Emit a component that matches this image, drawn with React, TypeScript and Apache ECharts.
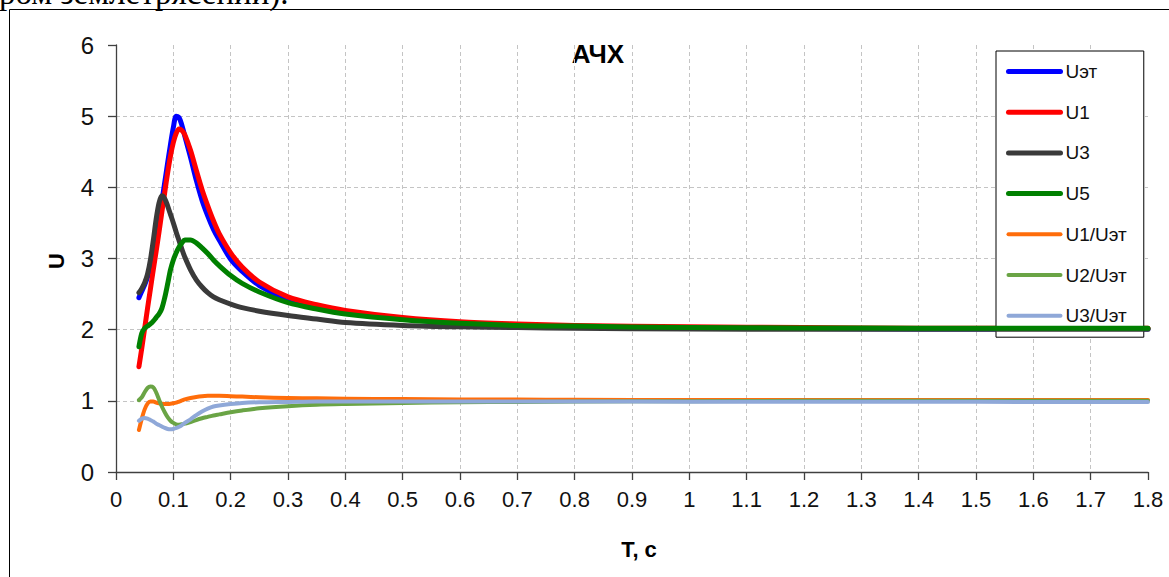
import React, { useEffect, useRef } from "react";
import * as echarts from "echarts";

const T = [0.04, 0.045, 0.05, 0.055, 0.06, 0.065, 0.07, 0.075, 0.08, 0.085, 0.09, 0.095, 0.1, 0.105, 0.11, 0.115, 0.12, 0.13, 0.14, 0.15, 0.16, 0.17, 0.18, 0.2, 0.22, 0.25, 0.3, 0.35, 0.4, 0.5, 0.6, 0.7, 0.8, 1.0, 1.2, 1.4, 1.6, 1.8];

const U_ET = [2.45, 2.54, 2.63, 2.74, 2.9, 3.1, 3.33, 3.56, 3.8, 4.07, 4.34, 4.6, 4.84, 5.0, 4.98, 4.87, 4.72, 4.42, 4.1, 3.82, 3.6, 3.41, 3.26, 2.99, 2.82, 2.62, 2.42, 2.31, 2.24, 2.15, 2.09, 2.06, 2.04, 2.02, 2.015, 2.01, 2.01, 2.01];
const U1 = [1.48, 1.74, 2.02, 2.3, 2.57, 2.84, 3.1, 3.37, 3.65, 3.93, 4.2, 4.44, 4.63, 4.76, 4.82, 4.8, 4.74, 4.52, 4.24, 3.97, 3.74, 3.53, 3.35, 3.08, 2.88, 2.67, 2.46, 2.35, 2.27, 2.17, 2.11, 2.08, 2.06, 2.04, 2.03, 2.02, 2.02, 2.02];
const U3 = [2.52, 2.58, 2.66, 2.78, 2.98, 3.25, 3.55, 3.78, 3.88, 3.84, 3.74, 3.62, 3.5, 3.37, 3.25, 3.13, 3.02, 2.84, 2.7, 2.6, 2.52, 2.46, 2.42, 2.36, 2.31, 2.26, 2.2, 2.15, 2.1, 2.06, 2.04, 2.03, 2.02, 2.01, 2.005, 2.005, 2.005, 2.005];
const U5 = [1.76, 1.95, 2.02, 2.05, 2.08, 2.12, 2.17, 2.22, 2.3, 2.45, 2.64, 2.84, 2.98, 3.08, 3.16, 3.22, 3.26, 3.26, 3.22, 3.15, 3.07, 2.98, 2.9, 2.76, 2.65, 2.53, 2.38, 2.29, 2.22, 2.14, 2.09, 2.06, 2.05, 2.03, 2.025, 2.02, 2.02, 2.02];
const R1 = [0.59, 0.75, 0.88, 0.96, 0.99, 0.99, 0.975, 0.965, 0.96, 0.955, 0.955, 0.958, 0.965, 0.975, 0.99, 1.005, 1.02, 1.04, 1.055, 1.065, 1.07, 1.07, 1.07, 1.065, 1.06, 1.05, 1.04, 1.035, 1.03, 1.025, 1.02, 1.018, 1.015, 1.012, 1.01, 1.01, 1.01, 1.01];
const R2 = [1.01, 1.05, 1.12, 1.18, 1.2, 1.19, 1.12, 1.02, 0.92, 0.84, 0.77, 0.72, 0.69, 0.67, 0.665, 0.67, 0.68, 0.7, 0.73, 0.755, 0.775, 0.795, 0.81, 0.84, 0.865, 0.895, 0.925, 0.945, 0.955, 0.97, 0.98, 0.985, 0.99, 0.995, 1.0, 1.0, 1.0, 1.0];
const R3 = [0.72, 0.75, 0.76, 0.75, 0.73, 0.71, 0.68, 0.66, 0.64, 0.62, 0.605, 0.6, 0.605, 0.62, 0.635, 0.66, 0.69, 0.74, 0.8, 0.85, 0.89, 0.92, 0.935, 0.955, 0.97, 0.98, 0.985, 0.99, 0.99, 0.99, 0.99, 0.99, 0.99, 0.988, 0.987, 0.986, 0.985, 0.985];

const SERIES_NAMES = ["Uэт", "U1", "U3", "U5", "U1/Uэт", "U2/Uэт", "U3/Uэт"];
const SERIES_VALUES = [U_ET, U1, U3, U5, R1, R2, R3];
const SERIES_COLORS = ["#0000ff", "#ff0000", "#3a3a3a", "#008000", "#ff6d0a", "#6aa445", "#8fa8d8"];
const SERIES_WIDTHS = [5, 5, 5, 5, 4, 4, 4];

const TITLE = "АЧХ";
const X_NAME = "Т, с";
const Y_NAME = "U";
const TOP_TEXT = "ром землетрясений).";

const FONT = '"Liberation Sans", Arial, sans-serif';

export default function App() {
  const ref = useRef<HTMLDivElement>(null);
  useEffect(() => {
    if (!ref.current) return;
    const chart = echarts.init(ref.current, null, { renderer: "svg" });
    const xGridColors = Array.from({ length: 19 }, (_, i) => (i === 0 || i === 18 ? "transparent" : "#c4c4c4"));
    const yGridColors = Array.from({ length: 7 }, (_, i) => (i === 0 || i === 6 ? "transparent" : "#c4c4c4"));
    chart.setOption({
      animation: false,
      backgroundColor: "#ffffff",
      grid: { left: 116, top: 45, right: 21, bottom: 105, containLabel: false },
      xAxis: {
        type: "value",
        min: 0,
        max: 1.8,
        interval: 0.1,
        axisLine: { show: true, onZero: false, lineStyle: { color: "#404040", width: 1.3 } },
        axisTick: { show: true, length: 8, lineStyle: { color: "#404040", width: 1.3 } },
        axisLabel: { fontSize: 22, fontFamily: FONT, color: "#111", margin: 16 },
        splitLine: { show: true, lineStyle: { color: xGridColors, type: [4, 3], width: 1 } },
      },
      yAxis: {
        type: "value",
        min: 0,
        max: 6,
        interval: 1,
        axisLine: { show: true, lineStyle: { color: "#404040", width: 1.3 } },
        axisTick: { show: true, length: 8, lineStyle: { color: "#404040", width: 1.3 } },
        axisLabel: { fontSize: 24, fontFamily: FONT, color: "#111", margin: 22 },
        splitLine: { show: true, lineStyle: { color: yGridColors, type: [4, 3], width: 1 } },
      },
      legend: {
        orient: "vertical",
        left: 996,
        top: 51,
        padding: [11, 17, 12, 10],
        itemGap: 21.7,
        itemWidth: 52,
        itemHeight: 18,
        backgroundColor: "#ffffff",
        borderColor: "#000000",
        borderWidth: 1,
        borderRadius: 0,
        textStyle: { fontSize: 19, fontFamily: FONT, color: "#111", lineHeight: 18 },
        lineStyle: { width: "inherit", cap: "round" },
        itemStyle: { opacity: 0 },
        data: SERIES_NAMES,
      },
      graphic: [
        {
          type: "rect",
          silent: true,
          shape: { x: 9.5, y: 9.5, width: 1400, height: 800 },
          style: { fill: "none", stroke: "#000", lineWidth: 1 },
        },
        {
          type: "text",
          silent: true,
          x: -1,
          y: -7,
          style: { text: TOP_TEXT, font: '33px "Liberation Serif", "Times New Roman", serif', fill: "#000", align: "left", verticalAlign: "middle" },
        },
        {
          type: "text",
          silent: true,
          x: 598,
          y: 54,
          style: { text: TITLE, font: `bold 26px ${FONT}`, fill: "#000", align: "center", verticalAlign: "middle" },
        },
        {
          type: "text",
          silent: true,
          x: 639,
          y: 549,
          style: { text: X_NAME, font: `bold 22px ${FONT}`, fill: "#000", align: "center", verticalAlign: "middle" },
        },
        {
          type: "text",
          silent: true,
          x: 56,
          y: 261,
          rotation: Math.PI / 2,
          style: { text: Y_NAME, font: `bold 22px ${FONT}`, fill: "#000", align: "center", verticalAlign: "middle" },
        },
      ],
      series: SERIES_NAMES.map((name, k) => ({
        name,
        type: "line",
        data: T.map((t, i) => [t, SERIES_VALUES[k][i]]),
        smooth: 0.3,
        symbol: "none",
        color: SERIES_COLORS[k],
        lineStyle: { color: SERIES_COLORS[k], width: SERIES_WIDTHS[k], cap: "round", join: "round" },
        z: 2 + k,
      })),
    });
    return () => chart.dispose();
  }, []);
  return <div ref={ref} style={{ position: "fixed", left: 0, top: 0, width: 1169, height: 577, background: "#fff" }} />;
}
